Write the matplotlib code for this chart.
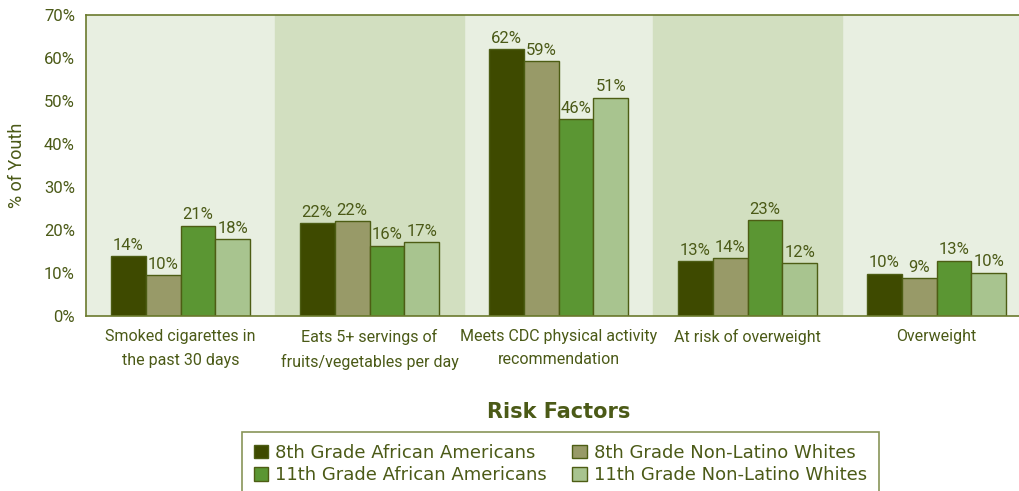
import numpy as np
import matplotlib
matplotlib.use("Agg")
import matplotlib.pyplot as plt
from matplotlib.patches import Patch

categories = ["Smoked cigarettes in\nthe past 30 days",
              "Eats 5+ servings of\nfruits/vegetables per day",
              "Meets CDC physical activity\nrecommendation",
              "At risk of overweight",
              "Overweight"]
series_names = ["8th Grade African Americans", "8th Grade Non-Latino Whites",
                "11th Grade African Americans", "11th Grade Non-Latino Whites"]
# bar heights, labels as printed
g8_aa = [13.9, 21.6, 62.0, 12.8, 9.8]
g8_nlw = [9.5, 22.1, 59.3, 13.5, 8.8]
g11_aa = [21.0, 16.3, 45.8, 22.3, 12.9]
g11_nlw = [17.9, 17.2, 50.8, 12.3, 10.1]
labels_8aa = ["14%", "22%", "62%", "13%", "10%"]
labels_8nlw = ["10%", "22%", "59%", "14%", "9%"]
labels_11aa = ["21%", "16%", "46%", "23%", "13%"]
labels_11nlw = ["18%", "17%", "51%", "12%", "10%"]
yticks = [0, 10, 20, 30, 40, 50, 60, 70]

colors = ["#3e4a00", "#989a68", "#5b9633", "#a8c48f"]
txt = "#4b5a17"
edge = "#4d5d14"
narrow = ["Roboto", "DejaVu Sans"]

fig = plt.figure(figsize=(10.19, 4.91), dpi=100)
ax = fig.add_axes([86/1019, 1-316/491, 945/1019, 301/491])
ax.set_facecolor("#e8efe1")

x = np.arange(len(categories))
w = 0.185
for i in [1, 3]:
    ax.axvspan(i - 0.5, i + 0.5, color="#d2dfc0", zorder=0)

all_vals = [g8_aa, g8_nlw, g11_aa, g11_nlw]
all_labs = [labels_8aa, labels_8nlw, labels_11aa, labels_11nlw]
for k in range(4):
    bars = ax.bar(x + (k - 1.5) * w, all_vals[k], width=w, color=colors[k],
                  edgecolor=edge, linewidth=1, zorder=2)
    for rect, lab in zip(bars, all_labs[k]):
        ax.text(rect.get_x() + rect.get_width()/2.0, rect.get_height() + 0.8, lab,
                ha="center", va="bottom", fontsize=12, color=txt, family=narrow)

ax.set_xlim(-0.5, len(categories) - 0.5)
ax.set_ylim(0, 70)
ax.set_yticks(yticks)
ax.set_yticklabels(["%d%%" % t for t in yticks], fontsize=12, color=txt, family=narrow)
ax.set_xticks(x)
ax.set_xticklabels(categories, fontsize=11.5, color=txt, family=narrow, linespacing=1.75)
ax.tick_params(length=0, pad=8)
ax.tick_params(axis="x", pad=9)
for s in ax.spines.values():
    s.set_color("#6b7a2e")
    s.set_linewidth(1.2)

fig.text(17/1019, 1-165/491, "% of Youth", rotation=90, ha="center", va="center",
         fontsize=13, color=txt, family=narrow)
fig.text(559/1019, 1-412/491, "Risk Factors", ha="center", va="center",
         fontsize=15, fontweight="bold", color=txt)

# legend fills column-wise, so order handles to get rows 8th / 11th
order = [0, 2, 1, 3]
handles = [Patch(facecolor=colors[k], edgecolor=edge) for k in order]
leg = fig.legend(handles, [series_names[k] for k in order], ncol=2, loc="upper left",
                 bbox_to_anchor=(242/1019, 1-432/491), frameon=True, fancybox=False,
                 fontsize=13, handlelength=0.8, handleheight=0.8, handletextpad=0.4,
                 columnspacing=1.4, labelspacing=0.25, borderpad=0.65, borderaxespad=0,
                 labelcolor=txt)
leg.get_frame().set_edgecolor("#6b7a2e")
leg.get_frame().set_linewidth(1.2)

fig.savefig("out.png", dpi=100)
